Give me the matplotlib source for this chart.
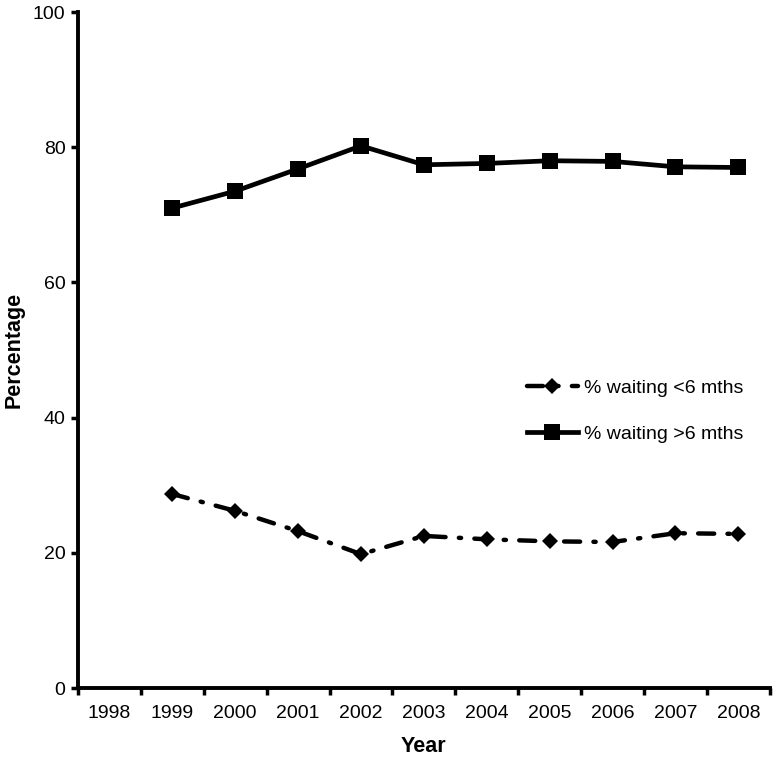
import numpy as np
import matplotlib
matplotlib.use("Agg")
import matplotlib.pyplot as plt

plt.rcParams['font.family'] = ['Liberation Sans', 'DejaVu Sans']

years = ['1998', '1999', '2000', '2001', '2002', '2003', '2004', '2005', '2006', '2007', '2008']
data_years = years[1:]
pct_under6 = [28.7, 26.2, 23.2, 19.8, 22.5, 22.0, 21.7, 21.6, 22.9, 22.8]
pct_over6 = [71.0, 73.5, 76.8, 80.2, 77.4, 77.6, 78.0, 77.9, 77.1, 77.0]

fig = plt.figure(figsize=(7.76, 7.6), dpi=100)
ax = fig.add_axes([0.1005, 0.0947, 0.8915, 0.8895])

xpos = [years.index(y) for y in data_years]

ax.plot(xpos, pct_under6, color='black', lw=3.2, linestyle=(0, (3.6, 3.0, 0.5, 3.0)),
        dash_capstyle='round', marker='D', markersize=8.5, markeredgewidth=0,
        label='% waiting <6 mths')
ax.plot(xpos, pct_over6, color='black', lw=3.4, marker='s', markersize=11,
        markeredgewidth=0, label='% waiting >6 mths')

ax.set_xlim(-0.5, len(years) - 0.5)
ax.set_ylim(0, 100)
ax.set_yticks([0, 20, 40, 60, 80, 100])

# ticks between categories, labels centred on categories
ax.set_xticks(np.arange(-0.5, len(years), 1.0))
ax.set_xticklabels([])
ax.set_xticks(np.arange(len(years)), minor=True)
ax.set_xticklabels(years, minor=True)
ax.tick_params(axis='x', which='minor', length=0, pad=12, labelsize=14)
ax.tick_params(axis='x', which='major', length=5, width=2.5, direction='out')
ax.tick_params(axis='y', length=5, width=2.5, direction='out', pad=4, labelsize=14)

for s in ['top', 'right']:
    ax.spines[s].set_visible(False)
for s in ['left', 'bottom']:
    ax.spines[s].set_linewidth(2.8)

ax.set_xlabel('Year', fontsize=15.5, fontweight='bold', labelpad=10)
ax.set_ylabel('Percentage', fontsize=15.5, fontweight='bold', labelpad=6)

ax.legend(loc='center left', bbox_to_anchor=(0.624, 0.41), frameon=False, fontsize=14,
          handlelength=2.6, handletextpad=0.3, labelspacing=1.45)

fig.savefig('out.png', dpi=100)
